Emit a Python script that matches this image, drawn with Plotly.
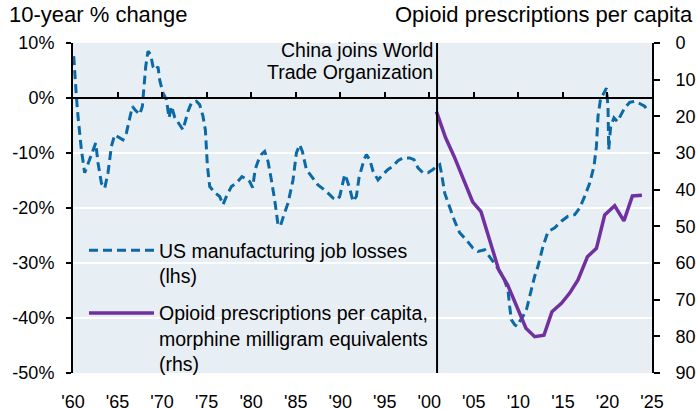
import plotly.graph_objects as go

# ---- data ----
jobs_year = [1960.08, 1960.19, 1960.38, 1960.56, 1960.94, 1961.31, 1961.68, 1962.07, 1962.55, 1962.81,
             1963.19, 1963.56, 1963.93, 1964.31, 1964.68, 1965.24, 1965.61, 1965.99, 1966.37, 1966.67,
             1966.93, 1967.49, 1967.79, 1967.94, 1968.16, 1968.42, 1968.72, 1968.98, 1969.28, 1969.54,
             1969.73, 1970.10, 1970.49, 1970.78, 1971.05, 1971.42, 1971.98, 1972.35, 1972.65, 1972.91,
             1973.29, 1973.85, 1974.22, 1974.59, 1974.86, 1974.98, 1975.09, 1975.35, 1975.91, 1976.47,
             1976.84, 1977.22, 1977.78, 1978.34, 1978.97, 1979.58, 1979.84, 1980.17, 1980.45, 1980.77,
             1981.18, 1981.52, 1981.89, 1982.27, 1982.64, 1983.01, 1983.28, 1983.57, 1984.14, 1984.70,
             1985.08, 1985.45, 1985.75, 1986.20, 1986.76, 1987.50, 1988.45, 1989.19, 1989.64, 1989.94,
             1990.24, 1990.50, 1990.76, 1991.06, 1991.43, 1991.81, 1992.11, 1992.38, 1992.67, 1992.94,
             1993.31, 1993.68, 1994.24, 1994.80, 1995.36, 1995.92, 1996.48, 1997.05, 1997.80, 1998.28,
             1998.73, 1999.29, 1999.85, 2000.41, 2000.80, 2001.17, 2001.36, 2001.73, 2002.29, 2002.85,
             2003.41, 2004.16, 2004.90, 2005.47, 2006.22, 2006.78, 2007.53, 2008.27, 2008.83, 2009.02,
             2009.21, 2009.58, 2009.84, 2010.15, 2010.52, 2010.90, 2011.27, 2011.83, 2012.20, 2012.76,
             2013.32, 2014.08, 2014.83, 2015.57, 2016.32, 2016.88, 2017.44, 2018.00, 2018.49, 2018.76,
             2018.94, 2019.24, 2019.61, 2019.88, 2020.06, 2020.14, 2020.36, 2020.73, 2021.11, 2021.56,
             2021.93, 2022.49, 2023.05, 2023.61, 2024.17, 2024.55]
jobs_pct = [7.6, 4.5, 0.3, -3.3, -9.4, -13.6, -11.8, -10.3, -8.2, -11.8,
            -15.5, -16.4, -13.6, -8.8, -6.7, -7.3, -7.6, -6.4, -3.9, -1.5,
            -2.1, -3.0, -1.5, 1.5, 5.7, 8.5, 7.9, 5.7, 5.1, 5.7,
            3.3, 0.9, -0.3, -3.6, -1.5, -3.5, -5.0, -5.8, -4.0, -2.4,
            -0.9, -0.6, -1.2, -3.3, -5.8, -8.8, -12.4, -16.1, -17.2, -17.9,
            -19.4, -17.9, -16.1, -15.5, -14.3, -14.8, -15.2, -16.3, -13.0, -11.5,
            -10.2, -9.7, -11.5, -14.9, -18.5, -23.0, -23.3, -21.8, -19.1, -14.9,
            -10.0, -8.5, -9.7, -13.0, -14.3, -15.8, -17.0, -18.2, -18.5, -17.9,
            -15.8, -13.9, -14.9, -16.4, -18.8, -17.9, -14.5, -13.0, -11.2, -10.3,
            -11.2, -13.3, -14.9, -13.9, -13.0, -12.4, -11.4, -10.9, -10.9, -11.2,
            -12.7, -13.6, -13.6, -13.0, -12.4, -12.1, -13.6, -17.3, -20.0, -22.4,
            -24.5, -25.8, -27.3, -27.9, -27.6, -28.8, -30.6, -32.4, -34.9, -37.9,
            -40.3, -41.2, -41.5, -40.6, -39.7, -38.5, -36.1, -32.4, -30.6, -27.0,
            -24.3, -23.6, -22.4, -21.5, -21.2, -20.0, -17.9, -15.5, -12.4, -8.8,
            -3.3, 0.0, 0.9, 1.8, -1.5, -9.4, -5.2, -3.6, -4.3, -3.0,
            -1.8, -0.8, -0.6, -1.0, -1.5, -2.3]

opioid_year = [2000.80, 2001.82, 2002.80, 2003.80, 2004.86, 2005.80, 2006.80, 2007.80, 2008.80, 2009.80,
               2010.85, 2011.83, 2012.87, 2013.77, 2014.83, 2015.76, 2016.69, 2017.75, 2018.76, 2019.69,
               2020.81, 2021.85, 2022.80, 2023.87]
opioid_mme = [187, 258, 310, 371, 433, 460, 540, 619, 660, 719,
              778, 801, 797, 733, 710, 682, 646, 583, 560, 469,
              444, 485, 417, 415]

wto_year = 2000.87

x_tick_years = [1960, 1965, 1970, 1975, 1980, 1985, 1990, 1995, 2000, 2005, 2010, 2015, 2020, 2025]
x_tick_labels = ["'60", "'65", "'70", "'75", "'80", "'85", "'90", "'95", "'00", "'05", "'10", "'15", "'20", "'25"]
left_tick_vals = [10, 0, -10, -20, -30, -40, -50]
left_tick_labels = ["10%", "0%", "-10%", "-20%", "-30%", "-40%", "-50%"]
right_tick_vals = [0, 100, 200, 300, 400, 500, 600, 700, 800, 900]
right_tick_labels = ["0", "100", "200", "300", "400", "500", "600", "700", "800", "900"]

BLUE = "#0B6AA6"
PURPLE = "#7030A0"
BG = "#E8EFF4"
FONT = "Arial, Liberation Sans, sans-serif"

fig = go.Figure()
fig.add_trace(go.Scatter(
    x=jobs_year, y=jobs_pct, mode="lines",
    name="US manufacturing job losses<br>(lhs)",
    line=dict(color=BLUE, width=3, dash="9px,5px"),
    legendgroup="a",
))
fig.add_trace(go.Scatter(
    x=opioid_year, y=opioid_mme, mode="lines", yaxis="y2",
    name="Opioid prescriptions per capita,<br>morphine milligram equivalents<br>(rhs)",
    line=dict(color=PURPLE, width=3.5),
    legendgroup="b",
))
# empty trace so the zero-line axis (x2) is instantiated
fig.add_trace(go.Scatter(x=[], y=[], xaxis="x2", showlegend=False, hoverinfo="skip"))

fig.add_shape(type="line", xref="x", yref="paper", x0=wto_year, x1=wto_year, y0=0, y1=1,
              line=dict(color="black", width=2), layer="above")

W, H = 696, 409
L, R, T, B = 73, 44, 43, 36
pw, ph = W - L - R, H - T - B

def px_x(p):
    return (p - L) / pw

def px_y(p):
    return (H - B - p) / ph

fig.add_annotation(text="10-year % change", xref="paper", yref="paper", x=px_x(7), y=px_y(15),
                   xanchor="left", yanchor="middle", showarrow=False, font=dict(size=22, color="black"))
fig.add_annotation(text="Opioid prescriptions per capita", xref="paper", yref="paper", x=px_x(695), y=px_y(15),
                   xanchor="right", yanchor="middle", showarrow=False, font=dict(size=22, color="black"))
fig.add_annotation(text="China joins World", xref="x", yref="paper", x=wto_year, y=px_y(50), xshift=-2,
                   xanchor="right", yanchor="middle", showarrow=False, font=dict(size=19.5, color="black"))
fig.add_annotation(text="Trade Organization", xref="x", yref="paper", x=wto_year, y=px_y(72), xshift=-2,
                   xanchor="right", yanchor="middle", showarrow=False, font=dict(size=19.5, color="black"))

fig.update_layout(
    width=W, height=H, autosize=False,
    margin=dict(l=L, r=R, t=T, b=B, pad=0),
    plot_bgcolor=BG, paper_bgcolor="white",
    font=dict(family=FONT, color="black", size=18),
    showlegend=True,
    legend=dict(x=px_x(84), y=px_y(231), xanchor="left", yanchor="top",
                bgcolor="rgba(0,0,0,0)", font=dict(size=19.5), valign="top",
                itemwidth=65, tracegroupgap=9, traceorder="grouped"),
    xaxis=dict(range=[1960, 2025], tickvals=x_tick_years, ticktext=x_tick_labels,
               ticks="", showline=False, showgrid=False, zeroline=False,
               ticklabelstandoff=16, automargin=False, tickfont=dict(size=18)),
    xaxis2=dict(overlaying="x", range=[1960, 2025], anchor="free", position=50 / 60, side="bottom",
                showline=True, linecolor="black", linewidth=2,
                ticks="inside", ticklen=5, tickwidth=2, tickcolor="black",
                tickvals=x_tick_years, showticklabels=False, showgrid=False, zeroline=False,
                automargin=False),
    yaxis=dict(range=[-50, 10], tickvals=left_tick_vals, ticktext=left_tick_labels,
               showline=True, linecolor="black", linewidth=2,
               ticks="outside", ticklen=5, tickwidth=2, tickcolor="black",
               showgrid=True, gridcolor="white", gridwidth=2, zeroline=False,
               ticklabelstandoff=8, automargin=False, tickfont=dict(size=18)),
    yaxis2=dict(overlaying="y", side="right", range=[900, 0], tickvals=right_tick_vals, ticktext=right_tick_labels,
                showline=True, linecolor="black", linewidth=2,
                ticks="outside", ticklen=6, tickwidth=2, tickcolor="black",
                showgrid=False, zeroline=False, ticklabelstandoff=12, automargin=False,
                tickfont=dict(size=18)),
)

fig.write_html("out.html", config={"displayModeBar": False},
               post_script="document.body.style.margin='0';")
